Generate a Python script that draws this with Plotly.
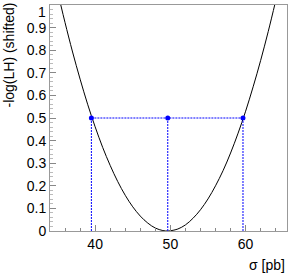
import plotly.graph_objects as go

# Curve values
sigma = [35.4, 36, 37, 38, 39, 40, 41, 42, 43, 44, 45, 46, 47, 48, 49, 49.65, 50, 51, 52, 53, 54, 55, 56, 57, 58, 59, 60, 61, 62, 63, 64]
nll = [1.005, 0.922, 0.792, 0.672, 0.561, 0.461, 0.370, 0.290, 0.219, 0.158, 0.107, 0.066, 0.035, 0.013, 0.002, 0.0, 0.001, 0.009, 0.027, 0.056, 0.094, 0.142, 0.200, 0.267, 0.345, 0.433, 0.530, 0.638, 0.755, 0.882, 1.019]

# Interval points
pts_x = [39.5, 49.65, 59.65]
pts_y = [0.5, 0.5, 0.5]

x_range = [34.0, 65.5]
y_range = [0, 1]
x_ticks = [40, 50, 60]
y_ticks = [0, 0.1, 0.2, 0.3, 0.4, 0.5, 0.6, 0.7, 0.8, 0.9, 1]
y_ticklabels = ["0", "0.1", "0.2", "0.3", "0.4", "0.5", "0.6", "0.7", "0.8", "0.9", "1"]

fig = go.Figure()

fig.add_trace(go.Scatter(x=sigma, y=nll, mode="lines", line=dict(color="black", width=1, shape="spline"),
                         hoverinfo="skip", showlegend=False, cliponaxis=True))

dot = "2px,1px"
# horizontal dotted line
fig.add_trace(go.Scatter(x=[pts_x[0], pts_x[2]], y=[pts_y[0], pts_y[2]], mode="lines",
                         line=dict(color="blue", width=1, dash=dot), showlegend=False))
# vertical dotted lines
for px, py in zip(pts_x, pts_y):
    fig.add_trace(go.Scatter(x=[px, px], y=[0, py], mode="lines",
                             line=dict(color="blue", width=1, dash=dot), showlegend=False))

fig.add_trace(go.Scatter(x=pts_x, y=pts_y, mode="markers",
                         marker=dict(color="blue", size=5), showlegend=False))

font = dict(family="Liberation Sans, Arial, sans-serif", size=14, color="black")

# top tick label drawn as annotation so it stays inside the page
shown_text = y_ticklabels[:-1] + [""]

fig.update_layout(
    width=293, height=279,
    margin=dict(l=50, r=6, t=5, b=48),
    plot_bgcolor="white", paper_bgcolor="white",
    font=font,
    xaxis=dict(range=x_range, tickvals=x_ticks, ticks="inside", ticklen=6, tickcolor="#888",
               showline=True, linecolor="#999", linewidth=1, mirror=True, showgrid=False, zeroline=False,
               automargin=False, ticklabeloverflow="allow",
               minor=dict(dtick=2, ticks="inside", ticklen=3, tickcolor="#888", showgrid=False),
               tickfont=font),
    yaxis=dict(range=y_range, tickvals=y_ticks, ticktext=shown_text, ticks="inside", ticklen=6, tickcolor="#888",
               showline=True, linecolor="#999", linewidth=1, mirror=True, showgrid=False, zeroline=False,
               automargin=False, ticklabeloverflow="allow",
               minor=dict(dtick=0.02, ticks="inside", ticklen=3, tickcolor="#bbb", showgrid=False),
               tickfont=font),
    annotations=[
        dict(text=y_ticklabels[-1], xref="paper", yref="y", x=0, xshift=-2, y=y_ticks[-1], yshift=3,
             xanchor="right", yanchor="top", showarrow=False, font=font),
        dict(text="σ [pb]", xref="paper", yref="paper", x=1, y=0, yshift=-24, xanchor="right", yanchor="top",
             showarrow=False, font=font),
        dict(text="-log(LH) (shifted)", xref="paper", yref="paper", x=0, xshift=-42, y=1, yshift=4,
             xanchor="center", yanchor="top", textangle=-90, showarrow=False, font=font),
    ],
)

fig.write_html("out.html", config={"displayModeBar": False},
               post_script="document.body.style.margin='0';document.body.style.overflow='hidden';")
